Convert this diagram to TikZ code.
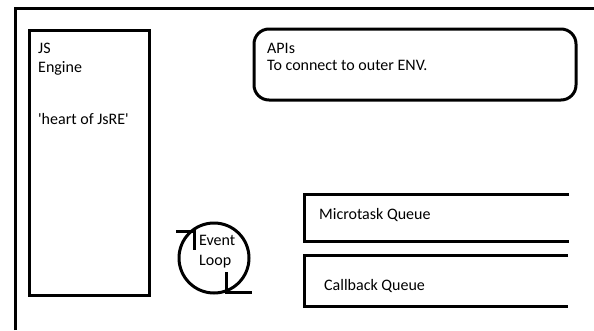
\documentclass[tikz,border=0pt]{standalone}
\usepackage{fontspec}
\setmainfont{Carlito}
\usepackage{tikz}

\tikzset{
  label/.style={anchor=base west, inner sep=0pt, font=\fontsize{16}{19}\selectfont},
  thickline/.style={line width=3pt},
}

\begin{document}
\begin{tikzpicture}[yscale=-1, x=1pt, y=1pt]
      \useasboundingbox (0,0) rectangle (594,330);

      % Outer frame
      \draw [thickline] (15,330) -- (15,8) -- (594,8);

      % JS engine
      \draw [thickline] (29,30) rectangle (149,295);
      \node[label] (js) at (38,53) {JS};
      \node[label] (engine) at (38,72) {Engine};
      \node[label] (heart) at (38,124) {\textquotesingle heart of JsRE\textquotesingle};

      % APIs
      \draw [thickline, rounded corners=15pt] (254,29) rectangle (576,100);
      \node[label] (apis) at (267,53) {APIs};
      \node[label] (outer) at (267,70) {To connect to outer ENV.};

      % Queues
      \draw [thickline] (569,194) -- (304,194) -- (304,241) -- (569,241);
      \node[label] (micro) at (319,219) {Microtask Queue};
      \draw [thickline] (568,255) -- (304,255) -- (304,306) -- (568,306);
      \node[label] (callback) at (324,290) {Callback Queue};

      % Event loop
      \draw [thickline] (214,258) circle (35);
      \draw [thickline] (176,231) -- (194,231) -- (194,250);
      \draw [thickline] (226,272) -- (226,292) -- (252,292);
      \node[label] (event) at (199,245) {Event};
      \node[label] (loop) at (199,265) {Loop};
    \end{tikzpicture}
\end{document}
